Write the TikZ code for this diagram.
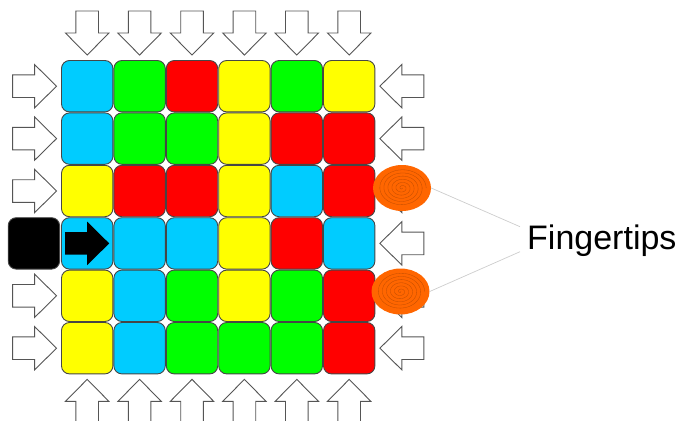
\documentclass[tikz,border=0pt]{standalone}
\usepackage{fontspec}
\setmainfont{Liberation Sans}
\usepackage{tikz}
\usetikzlibrary{positioning,shapes.geometric}
\definecolor{cian}{RGB}{0,204,255}
\definecolor{verde}{RGB}{0,255,0}
\definecolor{rojo}{RGB}{255,0,0}
\definecolor{amarillo}{RGB}{255,255,0}
\definecolor{naranja}{RGB}{255,102,0}
\definecolor{borde}{RGB}{70,70,70}
\definecolor{contorno}{RGB}{85,85,85}
\definecolor{guia}{RGB}{205,205,205}

\begin{document}
\begin{tikzpicture}[x=1pt, y=-1pt,
  celda/.style={draw=borde, fill=#1, line width=0.9pt, rounded corners=8pt,
    minimum size=51.4pt, inner sep=0pt},
  hueca/.style={draw=contorno, fill=white, line width=0.9pt},
  dedo/.style={ellipse, fill=naranja, minimum width=58pt,
    minimum height=46pt, inner sep=0pt},
  enlace/.style={draw=guia, line width=0.7pt},
  rotulo/.style={font=\fontsize{34}{40}\selectfont, inner sep=0pt},
  flecha/.pic={\path[pic actions] (0,0) -- (-22,-21.7) -- (-22,-11.3)
    -- (-44,-11.3) -- (-44,11.3) -- (-22,11.3) -- (-22,21.7) -- cycle;},
  huella/.pic={\draw[naranja!75!black, line width=0.3pt]
    plot[domain=0:2160, samples=240, smooth, variable=\t]
    ({0.0112*\t*cos(\t)},{0.0088*\t*sin(\t)});},
]
  \useasboundingbox (0,0) rectangle (684,420);
  \clip (0,0) rectangle (684,420);
  % ---- Tablero ----
  \foreach \fila [count=\i from 0] in
    {{cian,verde,rojo,amarillo,verde,amarillo},
     {cian,verde,verde,amarillo,rojo,rojo},
     {amarillo,rojo,rojo,amarillo,cian,rojo},
     {cian,cian,cian,amarillo,rojo,cian},
     {amarillo,cian,verde,amarillo,verde,rojo},
     {amarillo,cian,verde,verde,verde,rojo}}
    \foreach \tono [count=\j from 0] in \fila
      \node[celda=\tono] (c\i\j) at ({87.2+52.4*\j},{86.2+52.4*\i}) {};
  % ---- Flechas de empuje ----
  \foreach \j in {0,...,5} {
    \pic[hueca, rotate=-90] at ([yshift=5pt]c0\j.north) {flecha};
    \pic[hueca, rotate=90] at ([yshift=-5pt]c5\j.south) {flecha};
    \pic[hueca, rotate=180] at ([xshift=4.5pt]c\j5.east) {flecha};
  }
  \foreach \i in {0,1,2,4,5}
    \pic[hueca] at ([xshift=-4.5pt]c\i0.west) {flecha};
  % ---- Pieza entrante ----
  \node[celda=black, left=1pt of c30] (inicio) {};
  \pic[fill=black] at ([xshift=22pt]c30.center) {flecha};
  % ---- Yemas de los dedos ----
  \node[dedo] (dedo1) at (402,188) {};
  \node[dedo] (dedo2) at (400.5,291.5) {};
  \pic at (dedo1) {huella};
  \pic at (dedo2) {huella};
  \node[rotulo, anchor=base west] (texto) at (527,249) {Fingertips};
  \draw[enlace] (dedo1.east) -- ([xshift=-7pt,yshift=22.3pt]texto.base west);
  \draw[enlace] (dedo2.east) -- ([xshift=-7pt,yshift=-2.7pt]texto.base west);
\end{tikzpicture}
\end{document}
